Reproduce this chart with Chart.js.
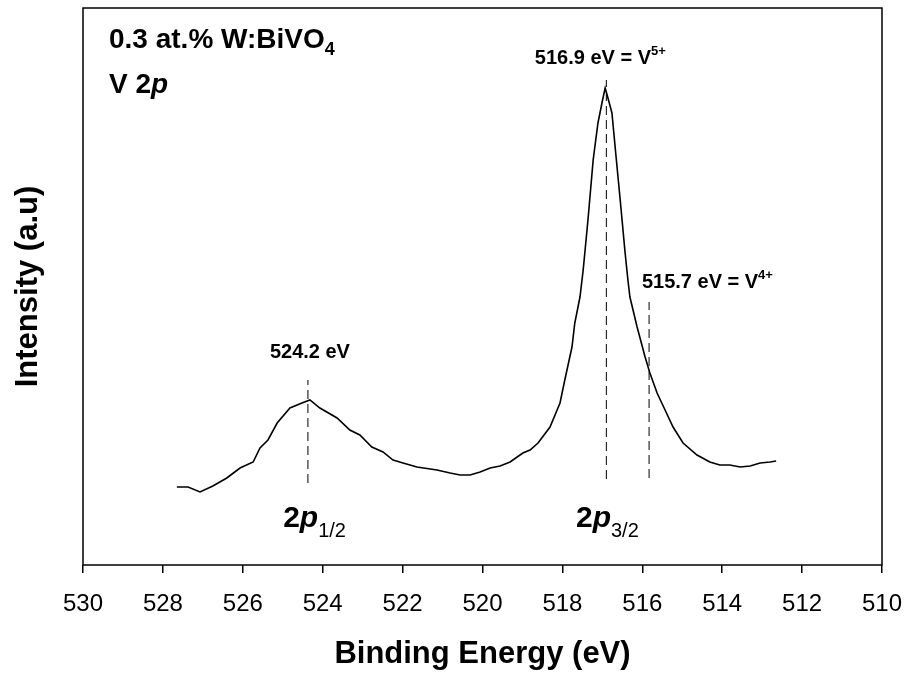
<!DOCTYPE html>
<html>
<head>
<meta charset="utf-8">
<script src="https://cdn.jsdelivr.net/npm/chart.js@4.4.1/dist/chart.umd.min.js"></script>
<style>
  body { margin: 0; background: #fff; }
  #wrap { width: 907px; height: 677px; }
</style>
</head>
<body>
<div id="wrap"><canvas id="myChart" width="907" height="677"></canvas></div>
<script>
// spectrum (binding energy in eV, intensity in a.u.)
let energia = [527.65, 527.37, 527.07, 526.75, 526.40, 526.07, 525.74, 525.57, 525.37, 525.14,
  524.82, 524.52, 524.32, 524.07, 523.64, 523.32, 523.07, 522.77, 522.49, 522.24,
  521.99, 521.64, 521.14, 520.81, 520.56, 520.31, 520.06, 519.81, 519.56, 519.31,
  518.99, 518.81, 518.61, 518.31, 518.06, 517.94, 517.76, 517.69, 517.56, 517.48,
  517.36, 517.23, 517.11, 517.01, 516.93, 516.88, 516.76, 516.68, 516.56, 516.43,
  516.36, 516.31, 516.13, 515.93, 515.81, 515.63, 515.43, 515.23, 514.98, 514.63,
  514.31, 514.06, 513.81, 513.55, 513.30, 513.05, 512.80, 512.65];
let intensidad = [78, 78, 73, 79, 87, 97, 103, 117, 125, 142,
  157, 162, 165, 157, 147, 135, 130, 118, 113, 105,
  102, 98, 95, 92, 90, 90, 93, 97, 99, 103,
  112, 115, 122, 138, 162, 185, 218, 242, 268, 295,
  345, 405, 442, 462, 477, 470, 452, 418, 368, 312,
  285, 268, 238, 208, 192, 172, 155, 138, 122, 110,
  103, 100, 100, 98, 99, 102, 103, 104];

// dashed marker lines: position (eV) and [bottom, top] intensity
let marcasEnergia = [524.37, 516.9, 515.83];
let marcasBase = [82, 86, 87];
let marcasTope = [185, 485, 263];

let ticksX = [530, 528, 526, 524, 522, 520, 518, 516, 514, 512, 510];

let puntos = energia.map((e, i) => ({ x: e, y: intensidad[i] }));

let datasets = [{
  data: puntos,
  borderColor: "#000",
  borderWidth: 1.6,
  pointRadius: 0,
  tension: 0
}];
for (let i = 0; i < marcasEnergia.length; i++) {
  datasets.push({
    data: [{ x: marcasEnergia[i], y: marcasBase[i] }, { x: marcasEnergia[i], y: marcasTope[i] }],
    borderColor: "#000",
    borderWidth: 1,
    borderDash: [9, 5],
    pointRadius: 0
  });
}

function drawRich(ctx, x, y, parts) {
  let cx = x;
  for (const p of parts) {
    ctx.font = p.font;
    ctx.fillText(p.text, cx, y + (p.dy || 0));
    cx += ctx.measureText(p.text).width;
  }
}

const fam = "'Liberation Sans', Arial, sans-serif";

const textos = {
  id: "textos",
  afterDraw(chart) {
    const { ctx, chartArea, scales } = chart;
    const xs = scales.x, ys = scales.y;
    ctx.save();
    // frame
    ctx.strokeStyle = "#000";
    ctx.lineWidth = 1.5;
    ctx.strokeRect(chartArea.left, chartArea.top, chartArea.right - chartArea.left, chartArea.bottom - chartArea.top);

    ctx.fillStyle = "#000";
    ctx.textBaseline = "alphabetic";
    ctx.textAlign = "left";
    const L = chartArea.left + 26;
    drawRich(ctx, L, chartArea.top + 40, [
      { text: "0.3 at.% W:BiVO", font: "bold 28px " + fam },
      { text: "4", font: "bold 18px " + fam, dy: 7 }
    ]);
    drawRich(ctx, L, chartArea.top + 85, [
      { text: "V 2", font: "bold 28px " + fam },
      { text: "p", font: "italic bold 28px " + fam }
    ]);

    drawRich(ctx, xs.getPixelForValue(518.69), ys.getPixelForValue(501), [
      { text: "516.9 eV = V", font: "bold 20px " + fam },
      { text: "5+", font: "bold 13px " + fam, dy: -9 }
    ]);
    drawRich(ctx, xs.getPixelForValue(516.01), ys.getPixelForValue(277), [
      { text: "515.7 eV = V", font: "bold 20px " + fam },
      { text: "4+", font: "bold 13px " + fam, dy: -9 }
    ]);
    ctx.font = "bold 20px " + fam;
    let w2 = ctx.measureText("524.2 eV").width;
    ctx.fillText("524.2 eV", xs.getPixelForValue(524.32) - w2 / 2, ys.getPixelForValue(207));

    drawRich(ctx, xs.getPixelForValue(524.99), ys.getPixelForValue(38), [
      { text: "2", font: "bold 30px " + fam },
      { text: "p", font: "italic bold 30px " + fam },
      { text: "1/2", font: "20px " + fam, dy: 10 }
    ]);
    drawRich(ctx, xs.getPixelForValue(517.66), ys.getPixelForValue(38), [
      { text: "2", font: "bold 30px " + fam },
      { text: "p", font: "italic bold 30px " + fam },
      { text: "3/2", font: "20px " + fam, dy: 10 }
    ]);
    ctx.restore();
  }
};

const conf = {
  type: "line",
  data: { datasets },
  options: {
    responsive: false,
    animation: false,
    layout: { padding: { top: 8, right: 25, left: 0, bottom: 0 } },
    plugins: { legend: { display: false }, tooltip: { enabled: false } },
    scales: {
      x: {
        type: "linear",
        reverse: true,
        min: 510,
        max: 530,
        afterBuildTicks: (s) => { s.ticks = ticksX.map(v => ({ value: v })); },
        afterFit: (s) => { s.height = 112; s.paddingLeft = 0; s.paddingRight = 0; },
        border: { display: false },
        grid: { drawOnChartArea: false, drawTicks: true, tickLength: 8, color: "#000", lineWidth: 1.5 },
        ticks: { color: "#000", padding: 17, maxRotation: 0, font: { family: "'Liberation Sans', Arial", size: 24 } },
        title: {
          display: true,
          text: "Binding Energy (eV)",
          color: "#000",
          padding: { top: 6 },
          font: { family: "'Liberation Sans', Arial", size: 31, weight: "bold" }
        }
      },
      y: {
        min: 0,
        max: 557,
        afterFit: (s) => { s.width = 83; },
        border: { display: false },
        grid: { display: false },
        ticks: { display: false },
        title: {
          display: true,
          text: "Intensity (a.u)",
          color: "#000",
          padding: { bottom: 0, top: 10 },
          font: { family: "'Liberation Sans', Arial", size: 31, weight: "bold" }
        }
      }
    }
  },
  plugins: [textos]
};

let grafico = new Chart(document.querySelector("#myChart"), conf);
</script>
</body>
</html>
